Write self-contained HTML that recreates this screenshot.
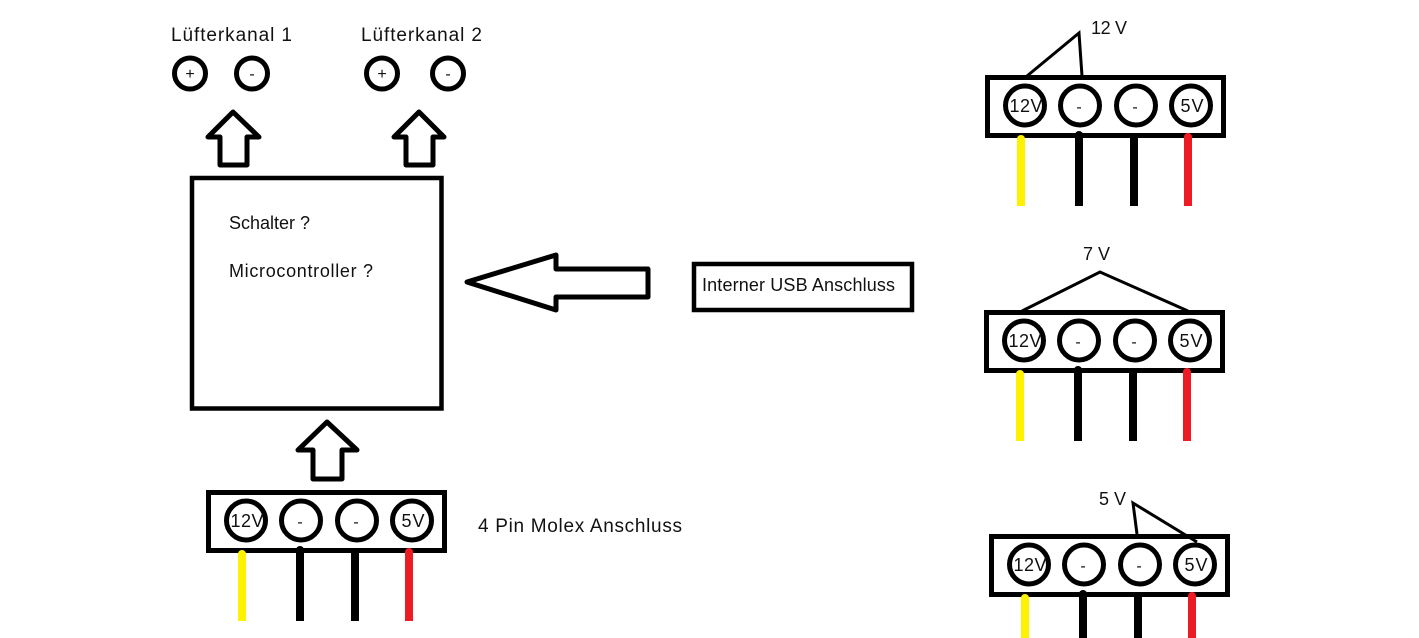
<!DOCTYPE html>
<html>
<head>
<meta charset="utf-8">
<style>
html,body{margin:0;padding:0;background:#fff;width:1419px;height:638px;overflow:hidden}
svg{display:block}
text{font-family:"Liberation Sans",sans-serif;fill:#111}
.s{fill:#fff;stroke:#000;stroke-width:4.5}
.c{fill:#fff;stroke:#000;stroke-width:5}
.a{fill:#fff;stroke:#000;stroke-width:5;stroke-linejoin:round}
.l{fill:none;stroke:#000;stroke-width:3}
.w{stroke-width:8;stroke-linecap:butt;fill:none}
</style>
</head>
<body>
<svg width="1419" height="638" viewBox="0 0 1419 638" xmlns="http://www.w3.org/2000/svg">
<rect width="1419" height="638" fill="#fff"/>

<text x="171" y="41" font-size="19" textLength="121" lengthAdjust="spacing">Lüfterkanal 1</text>
<text x="361" y="41" font-size="19" textLength="121" lengthAdjust="spacing">Lüfterkanal 2</text>

<circle class="a" cx="190" cy="73.5" r="15.5"/>
<circle class="a" cx="252" cy="73.5" r="15.5"/>
<circle class="a" cx="382" cy="73.5" r="15.5"/>
<circle class="a" cx="448" cy="73.5" r="15.5"/>
<text x="190" y="79" font-size="16" text-anchor="middle">+</text>
<text x="252" y="79" font-size="16" text-anchor="middle">-</text>
<text x="382" y="79" font-size="16" text-anchor="middle">+</text>
<text x="448" y="79" font-size="16" text-anchor="middle">-</text>

<polygon class="a" points="233,112 208,137 220,137 220,165 247,165 247,137 259,137"/>
<polygon class="a" points="419,112 394,137 406,137 406,165 433,165 433,137 444,137"/>
<polygon class="a" points="327,422 298,450 313,450 313,479 342,479 342,450 357,450"/>
<polygon class="a" points="467,282 556,255 556,269 648,269 648,297 556,297 556,310"/>

<rect class="s" x="192" y="178" width="249.5" height="230.5"/>
<text x="229" y="229" font-size="18" textLength="81" lengthAdjust="spacing">Schalter ?</text>
<text x="229" y="277" font-size="18" textLength="144" lengthAdjust="spacing">Microcontroller ?</text>

<rect class="s" x="694" y="264" width="218" height="46"/>
<text x="702" y="291" font-size="18" textLength="193" lengthAdjust="spacing">Interner USB Anschluss</text>

<text x="478" y="532" font-size="19" textLength="204" lengthAdjust="spacing">4 Pin Molex Anschluss</text>

<!-- Connector bottom-left -->
<g transform="translate(-779,415)">
<path d="M987.5,77.5H1223.5V135.5H987.5Z" fill="none" stroke="#000" stroke-width="5"/>
<line class="w" x1="1021" y1="139" x2="1021" y2="206" stroke="#fff200"/><circle cx="1021" cy="139" r="4" fill="#fff200"/>
<line class="w" x1="1079" y1="135" x2="1079" y2="206" stroke="#000"/><circle cx="1079" cy="135" r="4" fill="#000"/>
<line class="w" x1="1134" y1="136" x2="1134" y2="206" stroke="#000"/>
<line class="w" x1="1188" y1="137" x2="1188" y2="206" stroke="#ed1c24"/><circle cx="1188" cy="137" r="4" fill="#ed1c24"/>
<circle class="c" cx="1025" cy="105.5" r="19.5"/>
<circle class="c" cx="1080" cy="105.5" r="19.5"/>
<circle class="c" cx="1136" cy="105.5" r="19.5"/>
<circle class="c" cx="1191" cy="105.5" r="19.5"/>
<text x="1026" y="112" font-size="18" text-anchor="middle" textLength="33" lengthAdjust="spacing">12V</text>
<text x="1079" y="112" font-size="16" text-anchor="middle">-</text>
<text x="1135" y="112" font-size="16" text-anchor="middle">-</text>
<text x="1192" y="112" font-size="18" text-anchor="middle" textLength="23" lengthAdjust="spacing">5V</text>
</g>

<!-- Connector 12 V -->
<g>
<path d="M987.5,77.5H1223.5V135.5H987.5Z" fill="none" stroke="#000" stroke-width="5"/>
<line class="w" x1="1021" y1="139" x2="1021" y2="206" stroke="#fff200"/><circle cx="1021" cy="139" r="4" fill="#fff200"/>
<line class="w" x1="1079" y1="135" x2="1079" y2="206" stroke="#000"/><circle cx="1079" cy="135" r="4" fill="#000"/>
<line class="w" x1="1134" y1="136" x2="1134" y2="206" stroke="#000"/>
<line class="w" x1="1188" y1="137" x2="1188" y2="206" stroke="#ed1c24"/><circle cx="1188" cy="137" r="4" fill="#ed1c24"/>
<circle class="c" cx="1025" cy="105.5" r="19.5"/>
<circle class="c" cx="1080" cy="105.5" r="19.5"/>
<circle class="c" cx="1136" cy="105.5" r="19.5"/>
<circle class="c" cx="1191" cy="105.5" r="19.5"/>
<text x="1026" y="112" font-size="18" text-anchor="middle" textLength="33" lengthAdjust="spacing">12V</text>
<text x="1079" y="112" font-size="16" text-anchor="middle">-</text>
<text x="1135" y="112" font-size="16" text-anchor="middle">-</text>
<text x="1192" y="112" font-size="18" text-anchor="middle" textLength="23" lengthAdjust="spacing">5V</text>
</g>
<polyline class="l" points="1027,76 1079,33 1082,76"/>
<text x="1091" y="34" font-size="18" textLength="36" lengthAdjust="spacing">12 V</text>

<!-- Connector 7 V -->
<g transform="translate(-1,235)">
<path d="M987.5,77.5H1223.5V135.5H987.5Z" fill="none" stroke="#000" stroke-width="5"/>
<line class="w" x1="1021" y1="139" x2="1021" y2="206" stroke="#fff200"/><circle cx="1021" cy="139" r="4" fill="#fff200"/>
<line class="w" x1="1079" y1="135" x2="1079" y2="206" stroke="#000"/><circle cx="1079" cy="135" r="4" fill="#000"/>
<line class="w" x1="1134" y1="136" x2="1134" y2="206" stroke="#000"/>
<line class="w" x1="1188" y1="137" x2="1188" y2="206" stroke="#ed1c24"/><circle cx="1188" cy="137" r="4" fill="#ed1c24"/>
<circle class="c" cx="1025" cy="105.5" r="19.5"/>
<circle class="c" cx="1080" cy="105.5" r="19.5"/>
<circle class="c" cx="1136" cy="105.5" r="19.5"/>
<circle class="c" cx="1191" cy="105.5" r="19.5"/>
<text x="1026" y="112" font-size="18" text-anchor="middle" textLength="33" lengthAdjust="spacing">12V</text>
<text x="1079" y="112" font-size="16" text-anchor="middle">-</text>
<text x="1135" y="112" font-size="16" text-anchor="middle">-</text>
<text x="1192" y="112" font-size="18" text-anchor="middle" textLength="23" lengthAdjust="spacing">5V</text>
</g>
<polyline class="l" points="1022,311 1100,272 1188,311"/>
<text x="1083" y="260" font-size="18" textLength="27" lengthAdjust="spacing">7 V</text>

<!-- Connector 5 V -->
<g transform="translate(4,459)">
<path d="M987.5,77.5H1223.5V135.5H987.5Z" fill="none" stroke="#000" stroke-width="5"/>
<line class="w" x1="1021" y1="139" x2="1021" y2="206" stroke="#fff200"/><circle cx="1021" cy="139" r="4" fill="#fff200"/>
<line class="w" x1="1079" y1="135" x2="1079" y2="206" stroke="#000"/><circle cx="1079" cy="135" r="4" fill="#000"/>
<line class="w" x1="1134" y1="136" x2="1134" y2="206" stroke="#000"/>
<line class="w" x1="1188" y1="137" x2="1188" y2="206" stroke="#ed1c24"/><circle cx="1188" cy="137" r="4" fill="#ed1c24"/>
<circle class="c" cx="1025" cy="105.5" r="19.5"/>
<circle class="c" cx="1080" cy="105.5" r="19.5"/>
<circle class="c" cx="1136" cy="105.5" r="19.5"/>
<circle class="c" cx="1191" cy="105.5" r="19.5"/>
<text x="1026" y="112" font-size="18" text-anchor="middle" textLength="33" lengthAdjust="spacing">12V</text>
<text x="1079" y="112" font-size="16" text-anchor="middle">-</text>
<text x="1135" y="112" font-size="16" text-anchor="middle">-</text>
<text x="1192" y="112" font-size="18" text-anchor="middle" textLength="23" lengthAdjust="spacing">5V</text>
</g>
<polyline class="l" points="1137,534 1133,503 1197,542"/>
<text x="1099" y="505" font-size="18" textLength="27" lengthAdjust="spacing">5 V</text>
</svg>
</body>
</html>
